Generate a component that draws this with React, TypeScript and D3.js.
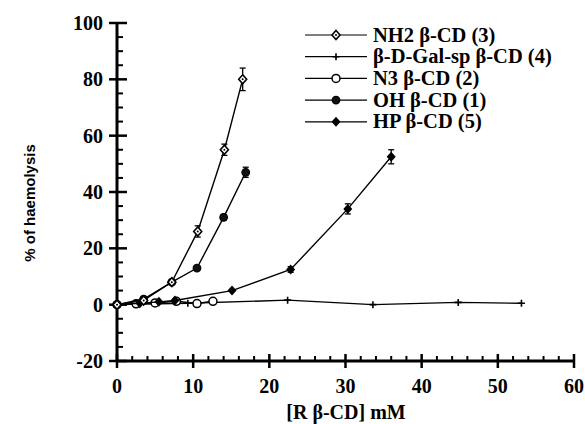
import React from "react";
import * as d3 from "d3";

const nh2X = [0, 3.5, 7.2, 10.6, 14.1, 16.5];
const nh2Y = [0, 1.5, 8, 26, 55, 80];
const nh2Err = [0, 0, 0.8, 2, 2, 4];

const ohX = [0, 3.5, 7.2, 10.5, 14.0, 16.9];
const ohY = [0, 2, 8, 13, 31, 47];
const ohErr = [0, 0, 0, 0.8, 1, 1.8];

const hpX = [0, 3, 5.5, 7.6, 15.1, 22.8, 30.3, 36.0];
const hpY = [0, 0.5, 1, 1.5, 5, 12.5, 34, 52.5];
const hpErr = [0, 0, 0, 0, 0, 1, 1.8, 2.5];

const galX = [0, 9.3, 22.4, 33.6, 44.8, 53.1];
const galY = [0, 0.5, 1.6, 0, 0.8, 0.5];

const n3X = [0, 2.5, 5, 7.8, 10.5, 12.6];
const n3Y = [0, 0.3, 0.6, 1.2, 0.4, 1.2];

const legendLabels = [
  "NH2 β-CD (3)",
  "β-D-Gal-sp β-CD (4)",
  "N3 β-CD (2)",
  "OH β-CD (1)",
  "HP β-CD (5)",
];

const xTicks = [0, 10, 20, 30, 40, 50, 60];
const yTicks = [-20, 0, 20, 40, 60, 80, 100];

type Kind = "diamondOpen" | "plus" | "circleOpen" | "circleSmall" | "diamondFilled";

function Marker({ x, y, kind }: { x: number; y: number; kind: Kind }) {
  const s = "#000";
  if (kind === "diamondOpen")
    return (
      <g>
        <path d={`M${x},${y - 4.5}L${x + 4},${y}L${x},${y + 4.5}L${x - 4},${y}Z`} fill="#fff" stroke={s} strokeWidth={1.6} />
        <circle cx={x} cy={y} r={1} fill={s} />
      </g>
    );
  if (kind === "plus")
    return (
      <g>
        <path d={`M${x - 3.5},${y}L${x + 3.5},${y}M${x},${y - 3.5}L${x},${y + 3.5}`} stroke={s} strokeWidth={1.6} />
      </g>
    );
  if (kind === "circleOpen")
    return <circle cx={x} cy={y} r={4} fill="#fff" stroke={s} strokeWidth={1.5} />;
  if (kind === "circleSmall")
    return <circle cx={x} cy={y} r={3.8} fill="#111" stroke={s} strokeWidth={1.2} />;
  return <path d={`M${x},${y - 5}L${x + 4.5},${y}L${x},${y + 5}L${x - 4.5},${y}Z`} fill={s} />;
}

const tf = (size: number, family = '"Liberation Serif"'): React.CSSProperties => ({
  fontFamily: family,
  fontWeight: 700,
  fontSize: `${size}px`,
  fill: "#000",
});

export default function App() {
  const W = 585,
    H = 424;
  const x = d3.scaleLinear().domain([0, 60]).range([117, 574]);
  const y = d3.scaleLinear().domain([-20, 100]).range([361, 23]);
  const line = d3
    .line<[number, number]>()
    .x((d) => x(d[0]))
    .y((d) => y(d[1]));

  const series = [
    { xs: galX, ys: galY, err: null as number[] | null, kind: "plus" as Kind },
    { xs: n3X, ys: n3Y, err: null, kind: "circleOpen" as Kind },
    { xs: hpX, ys: hpY, err: hpErr, kind: "diamondFilled" as Kind },
    { xs: ohX, ys: ohY, err: ohErr, kind: "circleSmall" as Kind },
    { xs: nh2X, ys: nh2Y, err: nh2Err, kind: "diamondOpen" as Kind },
  ];
  const legendKinds: Kind[] = ["diamondOpen", "plus", "circleOpen", "circleSmall", "diamondFilled"];

  const xMinor = d3.range(0, 61, 2).filter((v) => v % 10 !== 0);
  const yMinor = d3.range(-20, 101, 5).filter((v) => v % 20 !== 0);

  return (
    <svg width={W} height={H} style={{ position: "absolute", left: 0, top: 0, background: "#fff" }}>
      <g stroke="#000" fill="none">
        <line x1={x(0)} x2={x(0)} y1={y(-20)} y2={y(100)} strokeWidth={3} />
        <line x1={x(0)} x2={x(60)} y1={y(-20)} y2={y(-20)} strokeWidth={3} />
        {xTicks.map((t) => (
          <line key={"xt" + t} x1={x(t)} x2={x(t)} y1={y(-20) - 7} y2={y(-20) + 7} strokeWidth={2.5} />
        ))}
        {xMinor.map((t) => (
          <line key={"xm" + t} x1={x(t)} x2={x(t)} y1={y(-20) - 5} y2={y(-20)} strokeWidth={2} />
        ))}
        {yTicks.map((t) => (
          <line key={"yt" + t} x1={x(0) - 8} x2={x(0) + 10} y1={y(t)} y2={y(t)} strokeWidth={2.5} />
        ))}
        {yMinor.map((t) => (
          <line key={"ym" + t} x1={x(0)} x2={x(0) + 6} y1={y(t)} y2={y(t)} strokeWidth={2} />
        ))}
      </g>
      {xTicks.map((t) => (
        <text key={"xl" + t} x={x(t)} y={393} textAnchor="middle" style={tf(20)}>
          {t}
        </text>
      ))}
      {yTicks.map((t) => (
        <text key={"yl" + t} x={103} y={y(t) + 7} textAnchor="end" style={tf(20)}>
          {t}
        </text>
      ))}
      <text x={346} y={419} textAnchor="middle" style={tf(20)}>
        [R β-CD] mM
      </text>
      <text transform="translate(35,203) rotate(-90)" textAnchor="middle" style={tf(15, '"Liberation Sans"')}>
        % of haemolysis
      </text>
      {series.map((s, i) => {
        const pts = s.xs.map((v, j) => [v, s.ys[j]] as [number, number]);
        return (
          <g key={"s" + i}>
            <path d={line(pts) || ""} fill="none" stroke="#000" strokeWidth={1.4} />
            {s.err &&
              pts.map((p, j) =>
                s.err![j] > 0 ? (
                  <g key={"e" + j} stroke="#000" strokeWidth={1.3}>
                    <line x1={x(p[0])} x2={x(p[0])} y1={y(p[1] - s.err![j])} y2={y(p[1] + s.err![j])} />
                    <line x1={x(p[0]) - 3} x2={x(p[0]) + 3} y1={y(p[1] + s.err![j])} y2={y(p[1] + s.err![j])} />
                    <line x1={x(p[0]) - 3} x2={x(p[0]) + 3} y1={y(p[1] - s.err![j])} y2={y(p[1] - s.err![j])} />
                  </g>
                ) : null
              )}
            {pts.map((p, j) => (
              <Marker key={"m" + j} x={x(p[0])} y={y(p[1])} kind={s.kind} />
            ))}
          </g>
        );
      })}
      {legendLabels.map((lab, i) => {
        const ly = 35 + i * 21.7;
        return (
          <g key={"lg" + i}>
            <line x1={305} x2={367} y1={ly} y2={ly} stroke="#000" strokeWidth={1.2} />
            <Marker x={336} y={ly} kind={legendKinds[i]} />
            <text x={373} y={ly + 6.5} style={tf(20.5)}>
              {lab}
            </text>
          </g>
        );
      })}
    </svg>
  );
}
